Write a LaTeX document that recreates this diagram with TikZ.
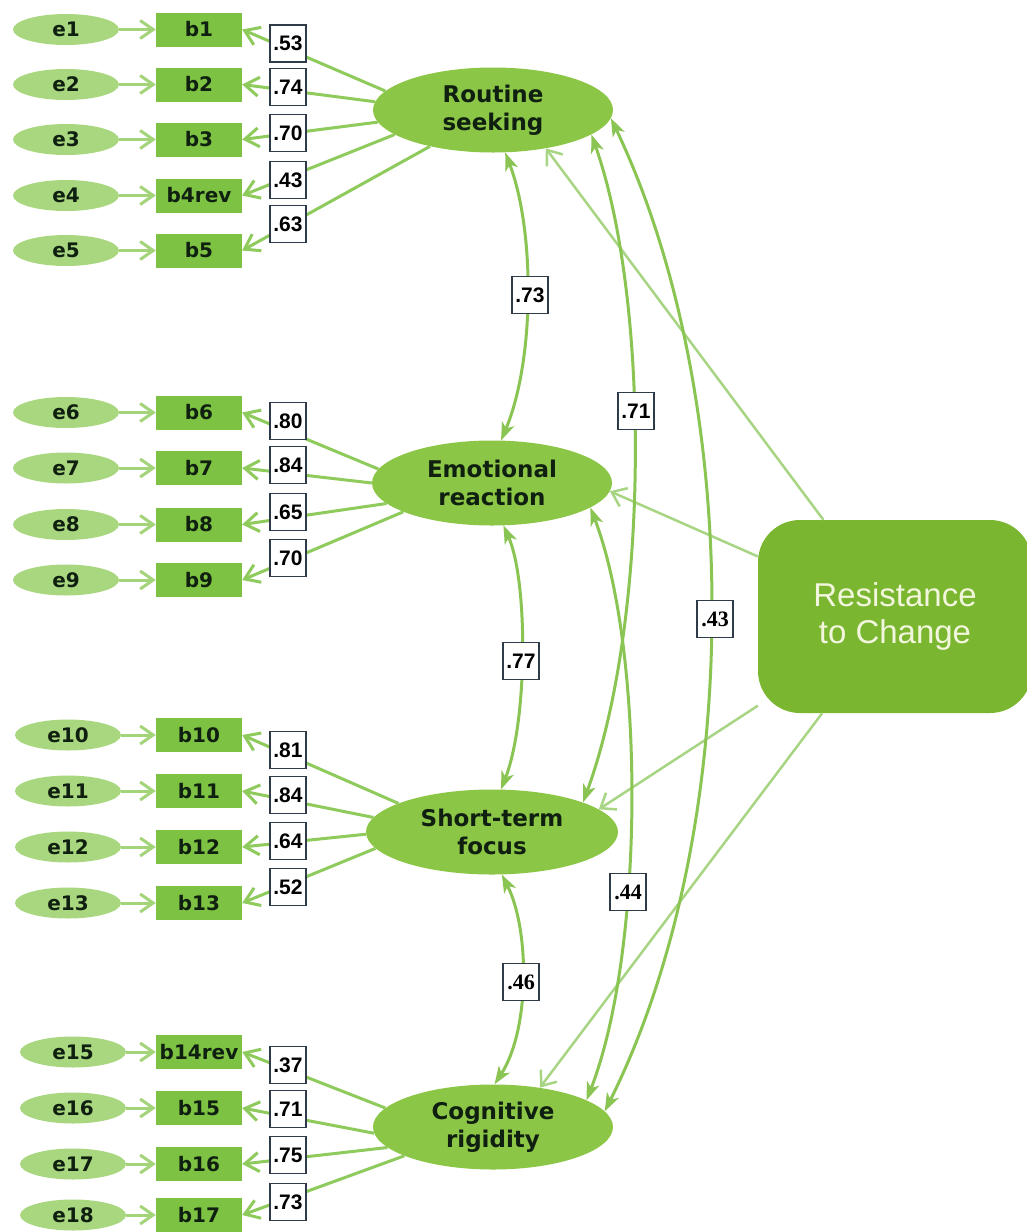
\documentclass[tikz,border=0pt]{standalone}
\usepackage{fontspec}
\setmainfont{Liberation Sans}
\newfontfamily\djv{DejaVu Sans}
\newfontfamily\lsans{Liberation Sans}
\newfontfamily\lserif{Liberation Serif}
\usetikzlibrary{arrows.meta,shapes.geometric}

\definecolor{errfill}{HTML}{A9D77F}
\definecolor{itemfill}{HTML}{7DC242}
\definecolor{latfill}{HTML}{8CC646}
\definecolor{resfill}{HTML}{7AB62F}
\definecolor{loadline}{HTML}{8FCB5C}
\definecolor{errline}{HTML}{A4D47A}
\definecolor{corline}{HTML}{8AC553}
\definecolor{resline}{HTML}{A8D583}
\definecolor{ink}{HTML}{102010}
\definecolor{boxline}{HTML}{2E3B48}
\definecolor{restext}{HTML}{F2F6DD}

\tikzset{
  errnode/.style={ellipse, fill=errfill, minimum width=106pt, minimum height=31pt,
    inner sep=0pt, text=ink, font=\djv\bfseries\fontsize{20}{22}\selectfont},
  itemnode/.style={rectangle, fill=itemfill, minimum width=86pt, minimum height=34pt,
    inner sep=0pt, text=ink, font=\djv\bfseries\fontsize{20}{22}\selectfont},
  latnode/.style={ellipse, fill=latfill, minimum width=240pt, minimum height=85pt,
    inner sep=0pt, align=center, text=ink, font=\djv\bfseries\fontsize{23}{28}\selectfont},
  resnode/.style={rectangle, rounded corners=42pt, fill=resfill, minimum width=274pt,
    minimum height=193pt, align=center, text=restext, font=\lsans\fontsize{33}{37}\selectfont},
  coef/.style={rectangle, draw=boxline, line width=1.3pt, fill=white, minimum width=36pt,
    minimum height=37pt, inner sep=0pt, text=black, font=\lsans\bfseries\fontsize{21}{22}\selectfont},
  coefser/.style={coef, font=\lserif\bfseries\fontsize{22}{22}\selectfont},
  errarrow/.style={draw=errline, line width=3pt, -{Straight Barb[length=13pt,width=18pt]}},
  loadarrow/.style={draw=loadline, line width=3pt, -{Straight Barb[length=14pt,width=19pt]}},
  corarrow/.style={draw=corline, line width=3pt,
    {Stealth[length=18pt,width=13pt,inset=5pt]}-{Stealth[length=18pt,width=13pt,inset=5pt]}},
  resarrow/.style={draw=resline, line width=2.5pt, -{Straight Barb[length=13pt,width=20pt]}},
}

\begin{document}
\begin{tikzpicture}[x=1pt, y=-1pt]
\fill[white] (0,0) rectangle (1027,1232);
\useasboundingbox (0,0) rectangle (1027,1232);

% error terms and observed items
\foreach \i/\y/\ex/\et/\bt in {
  1/29.5/66/e1/b1, 2/84.5/66/e2/b2, 3/139.5/66/e3/b3, 4/195.5/66/e4/b4rev, 5/250.5/66/e5/b5,
  6/412.5/66/e6/b6, 7/468/66/e7/b7, 8/524.5/66/e8/b8, 9/580/66/e9/b9,
  10/735/68/e10/b10, 11/791/68/e11/b11, 12/847/68/e12/b12, 13/903/68/e13/b13,
  14/1052/73/e15/b14rev, 15/1108/73/e16/b15, 16/1164/73/e17/b16, 17/1215/73/e18/b17}{
  \node[errnode] (e\i) at (\ex,\y) {\et};
  \node[itemnode] (b\i) at (199,\y) {\bt};
  \draw[errarrow] (e\i) -- (b\i);
}

% latent factors
\node[latnode] (rs) at (493,110) {Routine\\seeking};
\node[latnode] (er) at (492,483) {Emotional\\reaction};
\node[latnode, minimum width=252pt] (sf) at (492,832) {Short-term\\focus};
\node[latnode] (cr) at (493,1127) {Cognitive\\rigidity};

% second-order factor
\node[resnode] (res) at (895,616.5) {Resistance\\to Change};

% factor loadings
\foreach \i/\a in {1/170, 2/176, 3/186, 4/194, 5/210}
  \draw[loadarrow] (rs.\a) -- (b\i.east);
\foreach \i/\a in {6/173, 7/180, 8/191, 9/198}
  \draw[loadarrow] (er.\a) -- (b\i.east);
\foreach \i/\a in {10/163, 11/173, 12/181, 13/188}
  \draw[loadarrow] (sf.\a) -- (b\i.east);
\foreach \i/\a in {14/170, 15/183, 16/191, 17/198}
  \draw[loadarrow] (cr.\a) -- (b\i.east);

% paths from the second-order factor
\draw[resarrow] (res) -- (rs.324);
\draw[resarrow] (res) -- (er.356);
\draw[resarrow] (res) -- (sf.12);
\draw[resarrow] (res) -- (cr.40);

% correlations between factors
\draw[corarrow] (rs.286) .. controls (535,230) and (535,360) .. (er.78);
\draw[corarrow] (er.285) .. controls (528,580) and (528,720) .. (sf.78);
\draw[corarrow] (sf.283) .. controls (530,930) and (530,1030) .. (cr.88);
\draw[corarrow] (rs.346) .. controls (650,300) and (650,620) .. (sf.18);
\draw[corarrow] (rs.356) .. controls (745,400) and (745,830) .. (cr.8);
\draw[corarrow] (er.346) .. controls (645,650) and (645,950) .. (cr.16);

% loading coefficients
\foreach \i/\y/\v in {
  1/43.5/.53, 2/87/.74, 3/133/.70, 4/180/.43, 5/224/.63,
  6/421/.80, 7/465/.84, 8/512/.65, 9/558/.70,
  10/750/.81, 11/795/.84, 12/841/.64, 13/887/.52,
  14/1065/.37, 15/1109/.71, 16/1155/.75, 17/1202/.73}
  \node[coef] (L\i) at (288,\y) {\v};

% correlation coefficients
\node[coef] (c1) at (530,295) {.73};
\node[coef] (c2) at (521,661) {.77};
\node[coefser] (c3) at (521,982) {.46};
\node[coef] (c4) at (636,411) {.71};
\node[coefser] (c5) at (715,619) {.43};
\node[coefser] (c6) at (628,892) {.44};
\end{tikzpicture}
\end{document}
